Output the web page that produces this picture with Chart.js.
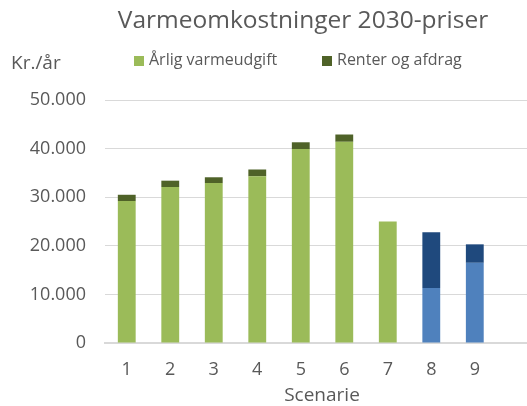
<!DOCTYPE html>
<html>
<head>
<meta charset="utf-8">
<style>
  html, body { margin: 0; padding: 0; background: #ffffff; }
  #wrap { width: 527px; height: 406px; position: relative; }
</style>
<script src="https://cdn.jsdelivr.net/npm/chart.js@4.4.1/dist/chart.umd.min.js"></script>
</head>
<body>
<div id="wrap"><canvas id="c" width="527" height="406"></canvas></div>
<script>
const chartTitle = "Varmeomkostninger 2030-priser";
const yAxisLabel = "Kr./år";
const xAxisLabel = "Scenarie";
const scenarios = [1, 2, 3, 4, 5, 6, 7, 8, 9];
const seriesNames = ["Årlig varmeudgift", "Renter og afdrag"];
const annualCost = [29200, 32100, 32900, 34300, 39900, 41400, 25000, 11300, 16500];
const interestRepayment = [1300, 1300, 1200, 1400, 1400, 1500, 0, 11500, 3800];
const yTicks = [0, 10000, 20000, 30000, 40000, 50000];

const GREEN = "#9BBB59", DARKGREEN = "#4F6228", BLUE = "#4F81BD", DARKBLUE = "#1F497D";
const baseColors = scenarios.map(s => s >= 8 ? BLUE : GREEN);
const topColors = scenarios.map(s => s >= 8 ? DARKBLUE : DARKGREEN);
const TEXT = "#595959";
const FONT = "'Open Sans', 'DejaVu Sans', sans-serif";

function fmt(v) {
  return String(Math.round(v)).replace(/\B(?=(\d{3})+(?!\d))/g, ".");
}

const decor = {
  id: "decor",
  afterDraw(chart) {
    const ctx = chart.ctx;
    ctx.save();
    ctx.fillStyle = TEXT;
    ctx.textBaseline = "middle";
    // title
    ctx.font = "24.5px " + FONT;
    ctx.textAlign = "center";
    ctx.fillText(chartTitle, 303, 21);
    // y axis label
    ctx.font = "19px " + FONT;
    ctx.textAlign = "left";
    ctx.fillText(yAxisLabel, 11, 64);
    // legend
    ctx.font = "16px " + FONT;
    const items = [
      { x: 134, tx: 149, color: GREEN, text: seriesNames[0] },
      { x: 322, tx: 337, color: DARKGREEN, text: seriesNames[1] }
    ];
    items.forEach(it => {
      ctx.fillStyle = it.color;
      ctx.fillRect(it.x, 56, 10, 10);
      ctx.fillStyle = TEXT;
      ctx.fillText(it.text, it.tx, 60);
    });
    // x axis title
    ctx.font = "19px " + FONT;
    ctx.textAlign = "center";
    ctx.fillText(xAxisLabel, 322, 396);
    ctx.restore();
  }
};

new Chart(document.getElementById("c"), {
  type: "bar",
  data: {
    datasets: [
      {
        label: seriesNames[0],
        data: scenarios.map((s, i) => ({ x: s, y: annualCost[i] })),
        backgroundColor: baseColors,
        borderWidth: 0
      },
      {
        label: seriesNames[1],
        data: scenarios.map((s, i) => ({ x: s, y: interestRepayment[i] })),
        backgroundColor: topColors,
        borderWidth: 0
      }
    ]
  },
  options: {
    responsive: false,
    animation: false,
    devicePixelRatio: 1,
    layout: { padding: { top: 100, right: 0, left: 0, bottom: 0 } },
    plugins: { legend: { display: false }, title: { display: false }, tooltip: { enabled: false } },
    datasets: { bar: { categoryPercentage: 1, barPercentage: 0.41 } },
    scales: {
      x: {
        type: "linear",
        stacked: true,
        offset: false,
        min: 0.5,
        max: 10.2,
        afterBuildTicks: (scale) => { scale.ticks = scenarios.map(v => ({ value: v })); },
        afterFit: (scale) => { scale.height = 63; },
        grid: { display: false, drawTicks: false, offset: false },
        border: { display: true, color: "#d9d9d9", width: 2 },
        ticks: {
          color: TEXT,
          font: { family: FONT, size: 18 },
          padding: 16,
          autoSkip: false,
          maxRotation: 0,
          callback: (v) => String(v)
        }
      },
      y: {
        stacked: true,
        min: 0,
        max: 50000,
        afterBuildTicks: (scale) => { scale.ticks = yTicks.map(v => ({ value: v })); },
        afterFit: (scale) => { scale.width = 105; },
        grid: { color: "#d9d9d9", lineWidth: 1, drawTicks: false },
        border: { display: false },
        ticks: {
          color: TEXT,
          font: { family: FONT, size: 18 },
          padding: 19,
          callback: (v) => fmt(v)
        }
      }
    }
  },
  plugins: [decor]
});
</script>
</body>
</html>
